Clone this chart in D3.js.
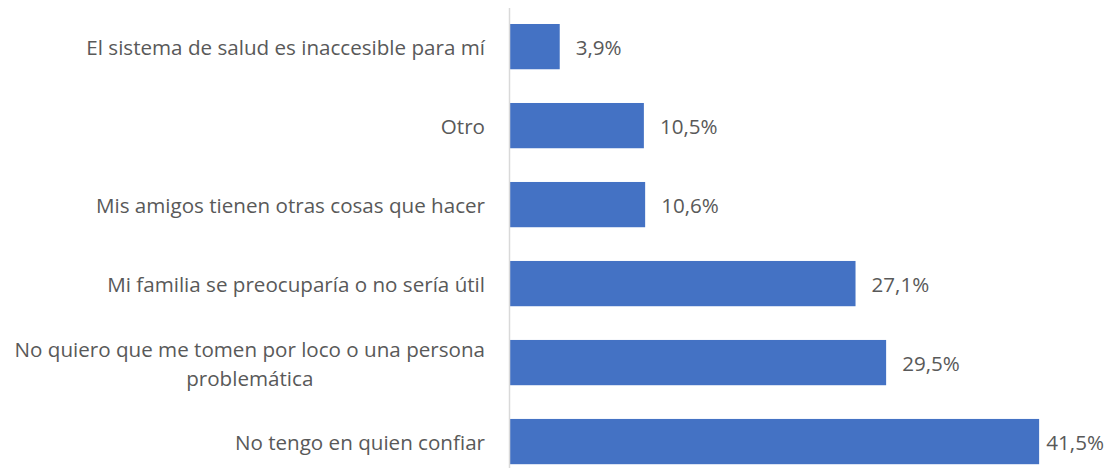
<!DOCTYPE html>
<html>
<head>
<meta charset="utf-8">
<script src="https://cdn.jsdelivr.net/npm/d3@7"></script>
<style>
  body { margin: 0; background: #fff; }
  text { font-family: "Open Sans", "Liberation Sans", sans-serif; fill: #595959; }
</style>
</head>
<body>
<div id="chart"></div>
<script>
// Chart data (top to bottom)
const categories = [
    ["El sistema de salud es inaccesible para mí"],
    ["Otro"],
    ["Mis amigos tienen otras cosas que hacer"],
    ["Mi familia se preocuparía o no sería útil"],
    ["No quiero que me tomen por loco o una persona", "problemática"],
    ["No tengo en quien confiar"]
];
const values = [3.9, 10.5, 10.6, 27.1, 29.5, 41.5];
const valueLabels = ["3,9%", "10,5%", "10,6%", "27,1%", "29,5%", "41,5%"];

const width = 1107, height = 472;
const axisX = 510;
const fontSize = 20.6;

const svg = d3.select("#chart").append("svg")
    .attr("width", width)
    .attr("height", height);

const x = d3.scaleLinear().domain([0, 45]).range([axisX, axisX + 45 * 12.75]);
const y = d3.scaleBand()
    .domain(d3.range(categories.length))
    .range([8.2, 480])
    .paddingInner(0.427)
    .paddingOuter(0.2);

// bars
svg.selectAll(".bar")
    .data(values)
    .enter().append("rect")
    .attr("class", "bar")
    .attr("x", x(0))
    .attr("y", (d, i) => y(i))
    .attr("width", d => x(d) - x(0))
    .attr("height", y.bandwidth())
    .attr("fill", "#4472c4");

// vertical axis line
svg.append("line")
    .attr("x1", axisX - 0.5).attr("x2", axisX - 0.5)
    .attr("y1", 8).attr("y2", 468)
    .attr("stroke", "#d9d9d9")
    .attr("stroke-width", 1.5);

// category labels
const lineH = 28.2;
categories.forEach((lines, i) => {
    const cy = y(i) + y.bandwidth() / 2;
    if (lines.length === 1) {
        svg.append("text")
            .attr("font-size", fontSize)
            .attr("dominant-baseline", "central")
            .attr("text-anchor", "end")
            .attr("x", axisX - 25)
            .attr("y", cy)
            .text(lines[0]);
    } else {
        // wrapped label: lines centered within a right-aligned block
        const tmp = svg.append("text").attr("font-size", fontSize).text(lines[0]);
        const w = tmp.node().getComputedTextLength();
        tmp.remove();
        const cx = axisX - 25 - w / 2;
        lines.forEach((ln, k) => {
            svg.append("text")
                .attr("font-size", fontSize)
                .attr("dominant-baseline", "central")
                .attr("text-anchor", "middle")
                .attr("x", cx)
                .attr("y", cy + 1 + (k - (lines.length - 1) / 2) * lineH)
                .text(ln);
        });
    }
});

// value labels (kept inside the chart area on the right)
svg.selectAll(".val")
    .data(values)
    .enter().append("text")
    .attr("class", "val")
    .attr("y", (d, i) => y(i) + y.bandwidth() / 2)
    .attr("dominant-baseline", "central")
    .attr("font-size", fontSize)
    .text((d, i) => valueLabels[i])
    .attr("x", function (d) {
        const w = this.getComputedTextLength();
        return Math.min(x(d) + 16, width - 3 - w);
    });
</script>
</body>
</html>
